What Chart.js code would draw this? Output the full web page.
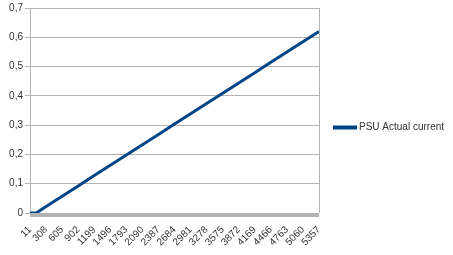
<style>body{margin:0}</style>
<div style="width:453px;height:255px"><canvas id="psuChart"></canvas></div>
<script src="https://cdn.jsdelivr.net/npm/chart.js"></script>
<script>
// tick labels on the x axis (sample numbers)
const xLabels = [11, 308, 605, 902, 1199, 1496, 1793, 2090, 2387, 2684, 2981, 3278, 3575, 3872, 4169, 4466, 4763, 5060, 5357];
const sampleX = [11, 126, 308, 605, 902, 1199, 1496, 1793, 2090, 2387, 2684, 2981, 3278, 3575, 3872, 4169, 4466, 4763, 5060, 5357];
const current = [0, 0, 0.022, 0.057, 0.092, 0.128, 0.163, 0.198, 0.233, 0.268, 0.304, 0.339, 0.374, 0.409, 0.444, 0.479, 0.515, 0.550, 0.585, 0.620];
const yTicks = [0, 0.1, 0.2, 0.3, 0.4, 0.5, 0.6, 0.7];
const seriesName = 'PSU Actual current';

const gridGrey = '#b3b3b3';
const lineBlue = '#004586';
Chart.defaults.font.family = '"Liberation Sans", Arial, sans-serif';
Chart.defaults.font.size = 10;
Chart.defaults.color = '#333';

// grey band under the plot + legend on the right
const extras = {
    id: 'extras',
    beforeDatasetsDraw(chart) {
        const a = chart.chartArea, c = chart.ctx;
        c.save();
        c.fillStyle = gridGrey;
        c.fillRect(a.left, a.bottom, a.right - a.left, 4);
        c.restore();
    },
    afterDraw(chart) {
        const a = chart.chartArea, c = chart.ctx;
        const y = chart.height / 2;
        const x = a.right + 14;
        c.save();
        c.strokeStyle = lineBlue;
        c.lineWidth = 4;
        c.beginPath();
        c.moveTo(x, y);
        c.lineTo(x + 24, y);
        c.stroke();
        c.fillStyle = '#333';
        c.font = '10px "Liberation Sans", Arial, sans-serif';
        c.textBaseline = 'middle';
        c.fillText(seriesName, x + 26, y);
        c.restore();
    }
};

const data = sampleX.map((x, i) => ({ x: x, y: current[i] }));

new Chart(document.getElementById('psuChart'), {
    type: 'line',
    data: {
        datasets: [{
            label: seriesName,
            data: data,
            borderColor: lineBlue,
            backgroundColor: lineBlue,
            borderWidth: 3,
            pointRadius: 0,
            tension: 0
        }]
    },
    options: {
        responsive: true,
        maintainAspectRatio: false,
        animation: false,
        layout: { padding: { top: 5, right: 134, left: 0, bottom: 0 } },
        plugins: { legend: { display: false }, tooltip: { enabled: false } },
        scales: {
            x: {
                type: 'linear',
                min: 11,
                max: 5357,
                afterBuildTicks: s => { s.ticks = xLabels.map(v => ({ value: v })); },
                afterFit: s => { s.height = 42; },
                grid: {
                    drawTicks: false,
                    color: c => c.index === xLabels.length - 1 ? gridGrey : 'transparent'
                },
                border: { display: false },
                ticks: {
                    autoSkip: false,
                    minRotation: 45,
                    maxRotation: 45,
                    padding: 11,
                    callback: v => String(v)
                }
            },
            y: {
                min: 0,
                max: 0.7,
                afterBuildTicks: s => { s.ticks = yTicks.map(v => ({ value: v })); },
                afterFit: s => { s.width = 30; },
                grid: { color: gridGrey, tickLength: 5 },
                border: { color: gridGrey },
                ticks: {
                    padding: 2,
                    callback: v => v === 0 ? '0' : v.toFixed(1).replace('.', ',')
                }
            }
        }
    },
    plugins: [extras]
});
</script>
